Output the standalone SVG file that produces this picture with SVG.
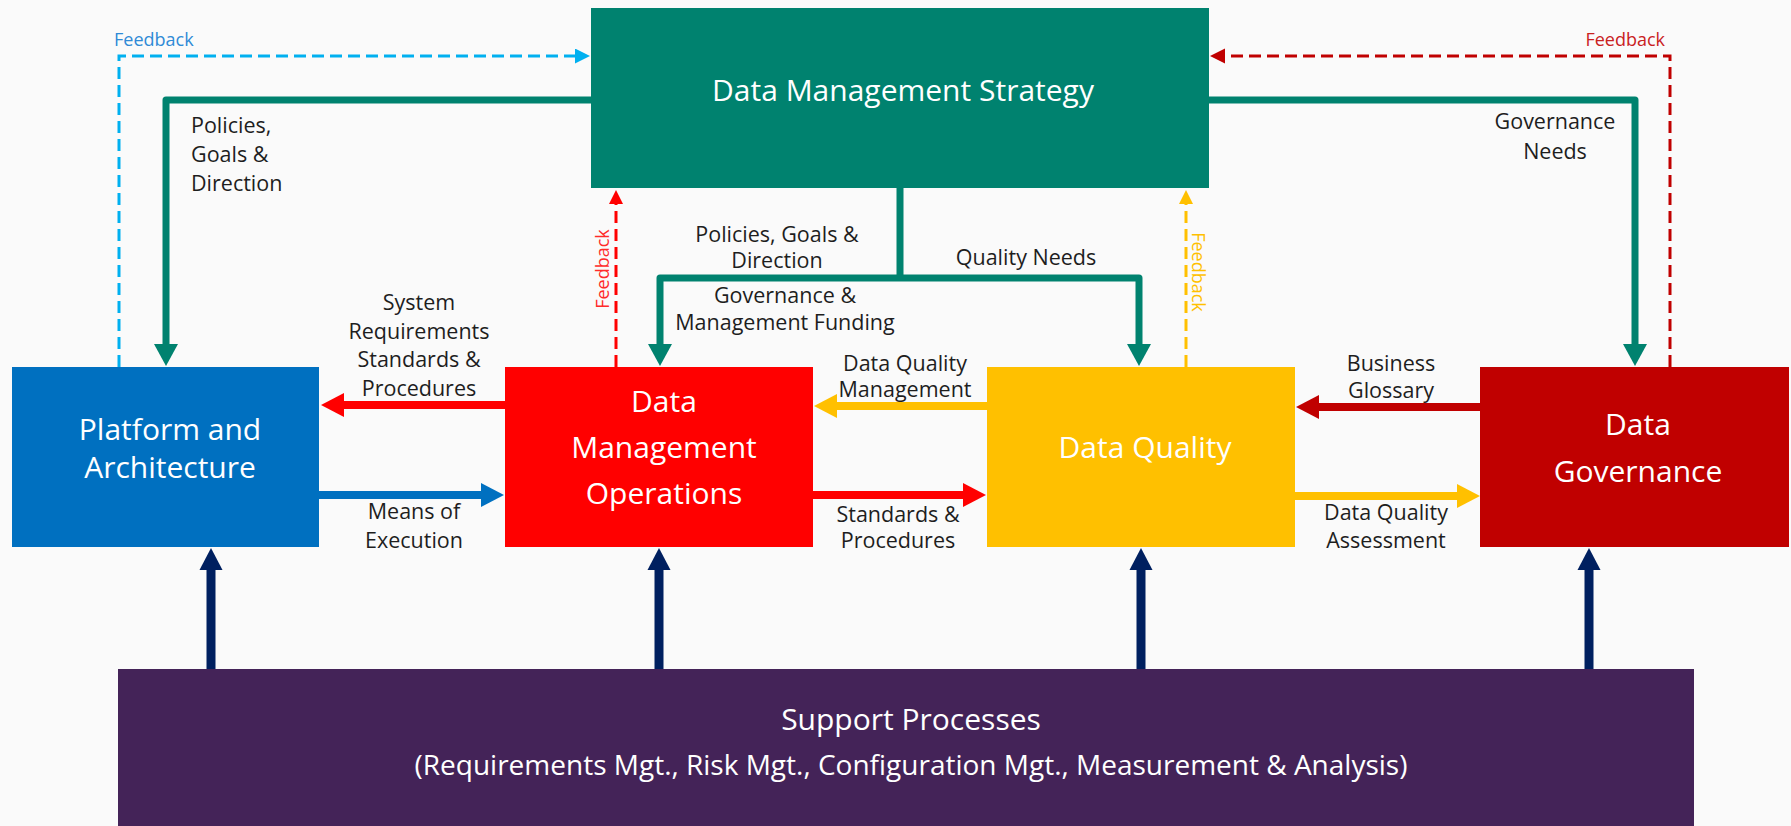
<svg xmlns="http://www.w3.org/2000/svg" width="1791" height="826" viewBox="0 0 1791 826">
<style>
.box{stroke:none}
.bt{font-family:"Open Sans","Noto Sans",sans-serif;font-size:30px;fill:#ffffff;text-anchor:middle}
.st{font-family:"Open Sans","Noto Sans",sans-serif;font-size:30px;fill:#ffffff;text-anchor:middle}
.lb{font-family:"Open Sans","Noto Sans",sans-serif;font-size:21.5px;fill:#1e1e1e;text-anchor:middle}
.fb{font-family:"Open Sans","Noto Sans",sans-serif;font-size:18px}
.thick{fill:none;stroke-width:8}
.teal{fill:none;stroke:#00826F;stroke-width:7;stroke-linejoin:round}
.navy{fill:none;stroke:#002060;stroke-width:9}
.dash{fill:none;stroke-width:3;stroke-dasharray:12 6}
</style>
<defs>
<marker id="hTeal" markerUnits="userSpaceOnUse" markerWidth="24" markerHeight="24" refX="1" refY="12" orient="auto"><path d="M0,0 L22,12 L0,24 z" fill="#00826F"/></marker>
<marker id="hRed" markerUnits="userSpaceOnUse" markerWidth="24" markerHeight="24" refX="1" refY="12" orient="auto"><path d="M0,0 L23,12 L0,24 z" fill="#FF0000"/></marker>
<marker id="hBlue" markerUnits="userSpaceOnUse" markerWidth="24" markerHeight="24" refX="1" refY="12" orient="auto"><path d="M0,0 L23,12 L0,24 z" fill="#0070C0"/></marker>
<marker id="hYel" markerUnits="userSpaceOnUse" markerWidth="24" markerHeight="24" refX="1" refY="12" orient="auto"><path d="M0,0 L23,12 L0,24 z" fill="#FFC000"/></marker>
<marker id="hDRed" markerUnits="userSpaceOnUse" markerWidth="24" markerHeight="24" refX="1" refY="12" orient="auto"><path d="M0,0 L23,12 L0,24 z" fill="#C00000"/></marker>
<marker id="hNavy" markerUnits="userSpaceOnUse" markerWidth="24" markerHeight="24" refX="1" refY="12" orient="auto"><path d="M0,0.5 L22,12 L0,23.5 z" fill="#002060"/></marker>
<marker id="dBlue" markerUnits="userSpaceOnUse" markerWidth="16" markerHeight="16" refX="1" refY="7.5" orient="auto"><path d="M0,0 L15,7.5 L0,15 z" fill="#00B0F0"/></marker>
<marker id="dDRed" markerUnits="userSpaceOnUse" markerWidth="16" markerHeight="16" refX="1" refY="7.5" orient="auto"><path d="M0,0 L15,7.5 L0,15 z" fill="#C00000"/></marker>
<marker id="dRed" markerUnits="userSpaceOnUse" markerWidth="16" markerHeight="16" refX="1" refY="7" orient="auto"><path d="M0,0 L14,7 L0,14 z" fill="#FF0000"/></marker>
<marker id="dYel" markerUnits="userSpaceOnUse" markerWidth="16" markerHeight="16" refX="1" refY="7" orient="auto"><path d="M0,0 L14,7 L0,14 z" fill="#FFC000"/></marker>
</defs>
<rect x="0" y="0" width="1791" height="826" fill="#FAFAFA"/>

<g id="connectors">
  <path class="teal" d="M591,100 H166 V345" marker-end="url(#hTeal)"/>
  <path class="teal" d="M1209,100 H1635 V345" marker-end="url(#hTeal)"/>
  <path class="teal" d="M900,188 V278"/>
  <path class="teal" d="M900,278 H660 V345" marker-end="url(#hTeal)"/>
  <path class="teal" d="M900,278 H1139 V345" marker-end="url(#hTeal)"/>
  <path class="thick" stroke="#FF0000" d="M505,405 H343" marker-end="url(#hRed)"/>
  <path class="thick" stroke="#0070C0" d="M319,495 H482" marker-end="url(#hBlue)"/>
  <path class="thick" stroke="#FF0000" d="M813,495 H964" marker-end="url(#hRed)"/>
  <path class="thick" stroke="#FFC000" d="M987,406 H836" marker-end="url(#hYel)"/>
  <path class="thick" stroke="#C00000" d="M1480,407 H1318" marker-end="url(#hDRed)"/>
  <path class="thick" stroke="#FFC000" d="M1295,496 H1458" marker-end="url(#hYel)"/>
  <path class="navy" d="M211,669 V569" marker-end="url(#hNavy)"/>
  <path class="navy" d="M659,669 V569" marker-end="url(#hNavy)"/>
  <path class="navy" d="M1141,669 V569" marker-end="url(#hNavy)"/>
  <path class="navy" d="M1589,669 V569" marker-end="url(#hNavy)"/>
  <path class="dash" stroke="#00B0F0" d="M119,367 V56 H576" marker-end="url(#dBlue)"/>
  <path class="dash" stroke="#C00000" d="M1670,367 V56 H1224" marker-end="url(#dDRed)"/>
  <path class="dash" stroke="#FF0000" d="M616,367 V203" marker-end="url(#dRed)"/>
  <path class="dash" stroke="#FFC000" d="M1186,367 V203" marker-end="url(#dYel)"/>
</g>

<g id="labels">
  <text class="lb" style="text-anchor:start" x="191" y="133">Policies,</text>
  <text class="lb" style="text-anchor:start" x="191" y="162">Goals &amp;</text>
  <text class="lb" style="text-anchor:start" x="191" y="191">Direction</text>
  <text class="lb" x="1555" y="129">Governance</text>
  <text class="lb" x="1555" y="159">Needs</text>
  <text class="lb" x="777" y="242">Policies, Goals &amp;</text>
  <text class="lb" x="777" y="268">Direction</text>
  <text class="lb" x="1026" y="265">Quality Needs</text>
  <text class="lb" x="785" y="303">Governance &amp;</text>
  <text class="lb" x="785" y="330">Management Funding</text>
  <text class="lb" x="419" y="310">System</text>
  <text class="lb" x="419" y="339">Requirements</text>
  <text class="lb" x="419" y="367">Standards &amp;</text>
  <text class="lb" x="419" y="396">Procedures</text>
  <text class="lb" x="414" y="519">Means of</text>
  <text class="lb" x="414" y="548">Execution</text>
  <text class="lb" x="905" y="371">Data Quality</text>
  <text class="lb" x="905" y="397">Management</text>
  <text class="lb" x="898" y="522">Standards &amp;</text>
  <text class="lb" x="898" y="548">Procedures</text>
  <text class="lb" x="1391" y="371">Business</text>
  <text class="lb" x="1391" y="398">Glossary</text>
  <text class="lb" x="1386" y="520">Data Quality</text>
  <text class="lb" x="1386" y="548">Assessment</text>
  <text class="fb" fill="#2F8AD6" x="114" y="46">Feedback</text>
  <text class="fb" fill="#C9211E" x="1665" y="46" text-anchor="end">Feedback</text>
  <text class="fb" fill="#FF2A2A" text-anchor="middle" transform="translate(609,269) rotate(-90)">Feedback</text>
  <text class="fb" fill="#FFC000" text-anchor="middle" transform="translate(1192,272) rotate(90)">Feedback</text>
</g>

<g id="strategy">
  <rect class="box" x="591" y="8" width="618" height="180" fill="#00826F"/>
  <text class="bt" x="903" y="101">Data Management Strategy</text>
</g>
<g id="platform">
  <rect class="box" x="12" y="367" width="307" height="180" fill="#0070C0"/>
  <text class="bt" x="170" y="440">Platform and</text>
  <text class="bt" x="170" y="478">Architecture</text>
</g>
<g id="operations">
  <rect class="box" x="505" y="367" width="308" height="180" fill="#FF0000"/>
  <text class="bt" x="664" y="412">Data</text>
  <text class="bt" x="664" y="458">Management</text>
  <text class="bt" x="664" y="504">Operations</text>
</g>
<g id="quality">
  <rect class="box" x="987" y="367" width="308" height="180" fill="#FFC000"/>
  <text class="bt" x="1145" y="458">Data Quality</text>
</g>
<g id="governance">
  <rect class="box" x="1480" y="367" width="309" height="180" fill="#C00000"/>
  <text class="bt" x="1638" y="435">Data</text>
  <text class="bt" x="1638" y="482">Governance</text>
</g>
<g id="support">
  <rect class="box" x="118" y="669" width="1576" height="157" fill="#442358"/>
  <text class="st" x="911" y="730">Support Processes</text>
  <text class="st" style="font-size:28px" x="911" y="775">(Requirements Mgt., Risk Mgt., Configuration Mgt., Measurement &amp; Analysis)</text>
</g>
</svg>
